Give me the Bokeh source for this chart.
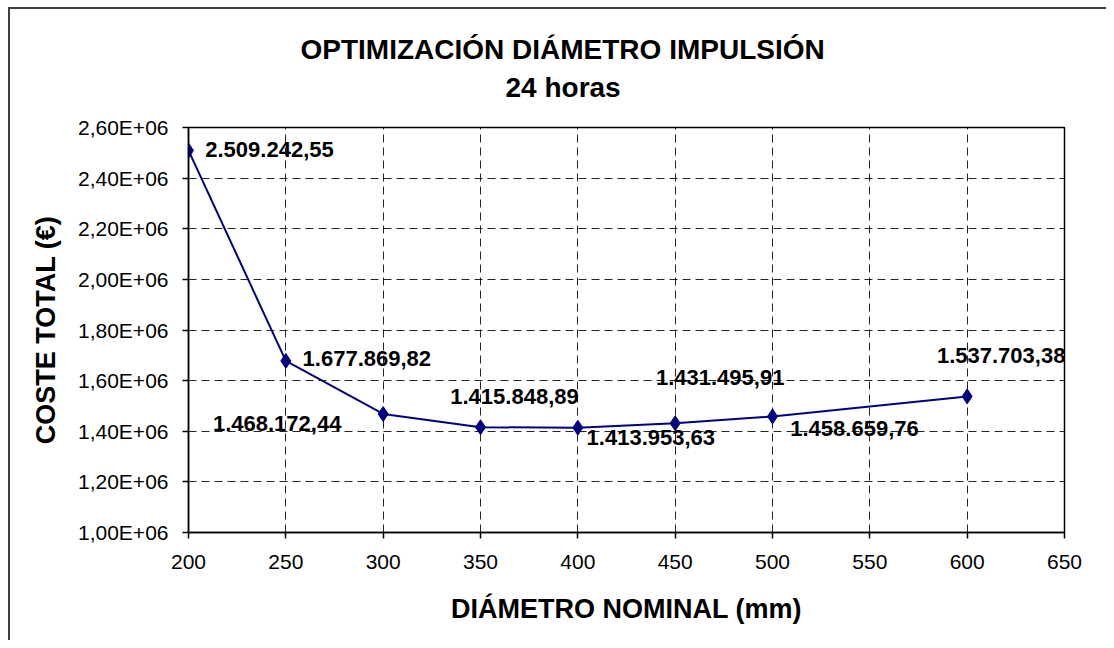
from bokeh.plotting import figure
from bokeh.models import Range1d, FixedTicker, Title, LabelSet, ColumnDataSource
from bokeh.core.properties import value
from bokeh.embed import file_html
from bokeh.resources import INLINE

# ---- data ----
diametro = [200, 250, 300, 350, 400, 450, 500, 600]
coste = [2509242.55, 1677869.82, 1468172.44, 1415848.89,
         1413953.63, 1431495.91, 1458659.76, 1537703.38]
etiquetas = ["2.509.242,55", "1.677.869,82", "1.468.172,44", "1.415.848,89",
             "1.413.953,63", "1.431.495,91", "1.458.659,76", "1.537.703,38"]
x_ticks = [200, 250, 300, 350, 400, 450, 500, 550, 600, 650]
y_ticks = [1.0e6, 1.2e6, 1.4e6, 1.6e6, 1.8e6, 2.0e6, 2.2e6, 2.4e6, 2.6e6]
y_tick_labels = ["1,00E+06", "1,20E+06", "1,40E+06", "1,60E+06", "1,80E+06",
                 "2,00E+06", "2,20E+06", "2,40E+06", "2,60E+06"]
titulo = "OPTIMIZACIÓN DIÁMETRO IMPULSIÓN"
subtitulo = "24 horas"

# label placement (screen px offsets from each point to label centre, y up)
lab_dx = [81, 81, -106, 34, 73, 45, 82, 34]
lab_dy = [1, 2, -10, 31, -10, 46, -12, 41]

FONT = "Liberation Sans"

p = figure(width=1106, height=640, output_backend="svg", toolbar_location=None,
           x_range=Range1d(200, 650), y_range=Range1d(1.0e6, 2.6e6),
           min_border_left=188, min_border_right=42,
           min_border_top=127, min_border_bottom=108)
# outer chart-area border (left and top edges, like the reference)
p.border_fill_color = None
p.styles = {
    "background": "linear-gradient(#404040,#404040) 8px 7px / 2px 100% no-repeat, "
                  "linear-gradient(#404040,#404040) 8px 7px / 100% 2px no-repeat, white"
}

p.background_fill_color = "white"
p.outline_line_color = "black"
p.outline_line_width = 1.5

# titles (a tiny blank white spacer title keeps the subtitle off the plot frame)
p.add_layout(Title(text=" ", text_font=FONT, text_font_size="1px",
                   text_color="white", standoff=22), "above")
p.add_layout(Title(text=subtitulo, align="left", offset=317,
                   text_font=FONT, text_font_size="28px", text_font_style="bold",
                   text_color="black", standoff=0), "above")
p.add_layout(Title(text=titulo, align="left", offset=112,
                   text_font=FONT, text_font_size="28px", text_font_style="bold",
                   text_color="black", standoff=10), "above")

# axes
for ax in (p.xaxis, p.yaxis):
    ax.axis_line_color = "black"
    ax.axis_line_width = 1.5
    ax.major_tick_line_color = "black"
    ax.major_tick_line_width = 1.5
    ax.major_tick_out = 6
    ax.major_tick_in = 0
    ax.minor_tick_line_color = None
    ax.major_label_text_font = FONT
    ax.major_label_text_font_size = "21px"
    ax.major_label_text_color = "black"
    ax.axis_label_text_font = FONT
    ax.axis_label_text_font_size = "27px"
    ax.axis_label_text_font_style = "bold"
    ax.axis_label_text_color = "black"

p.xaxis.ticker = FixedTicker(ticks=x_ticks)
p.yaxis.ticker = FixedTicker(ticks=y_ticks)
p.yaxis.major_label_overrides = {t: l for t, l in zip(y_ticks, y_tick_labels)}
p.xaxis.axis_label = "DIÁMETRO NOMINAL (mm)"
p.yaxis.axis_label = "COSTE TOTAL (€)"
p.xaxis.major_label_standoff = 16
p.yaxis.major_label_standoff = 14
p.xaxis.axis_label_standoff = 22
p.yaxis.axis_label_standoff = 14

# grid
for g in (p.xgrid, p.ygrid):
    g.grid_line_color = "black"
    g.grid_line_width = 1
    g.grid_line_dash = "8 5"
    g.grid_line_alpha = 0.85

src = ColumnDataSource(dict(x=diametro, y=coste, t=etiquetas, dx=lab_dx, dy=lab_dy))

p.line("x", "y", source=src, line_color="#000080", line_width=2)
p.scatter("x", "y", source=src, marker="diamond", size=15,
          fill_color="#000080", line_color="#000080")
p.add_layout(LabelSet(x="x", y="y", text="t", source=src, x_offset="dx", y_offset="dy",
                      text_font=value(FONT), text_font_size="22px", text_font_style="bold",
                      text_color="black", text_align="center", text_baseline="middle"))

open("out.html", "w").write(file_html(p, INLINE))
